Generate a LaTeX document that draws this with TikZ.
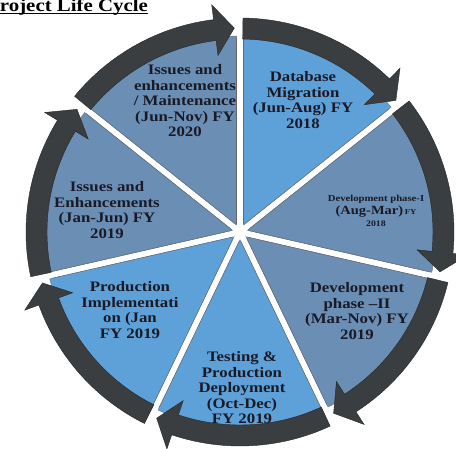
\documentclass[tikz,border=0pt]{standalone}
\usepackage{fontspec}
\setmainfont{Liberation Serif}[FakeStretch=1.16]
\definecolor{lightseg}{RGB}{94,160,216}
\definecolor{darkseg}{RGB}{106,142,180}
\definecolor{ringgray}{RGB}{58,62,64}
\definecolor{labelink}{RGB}{26,26,38}
\tikzset{segment/.style={draw=black!55, line width=0.4pt},
  cyclearrow/.style={fill=ringgray, draw=black!85, line width=0.4pt},
  stage/.style={align=center, inner sep=0, text=labelink,
    font=\bfseries\fontsize{14.5}{15.5}\selectfont}}

\begin{document}
\begin{tikzpicture}[x=1pt, y=1pt]
    \useasboundingbox (-240,-216) rectangle (216,232);
    \clip (-240,-216) rectangle (216,232);
    % seven stages, clockwise from the top
    \foreach \col [count=\k, evaluate={\s=90-(\k-1)*360/7; \e=\s-360/7;}]
    in {lightseg, darkseg, darkseg, lightseg, lightseg, darkseg, darkseg}
        \fill [\col, segment] (0,0) -- (\s:196) arc [start angle=\s, end angle=\e, radius=196] -- cycle;
    \foreach \k in {0,...,6}{
        \draw [white, line width=6pt] (0,0) -- (90-\k*360/7:201);
        \draw [black!60, line width=0.5pt, rotate=90-\k*360/7]
            (8,3.3) -- (194,3.3) (8,-3.3) -- (194,-3.3);
    }
    % curved arrows round the ring
    \foreach \k [evaluate={\s=90-(\k-1)*360/7-0.8; \t=90-\k*360/7+1.6; \h=\t+5.5;}] in {1,...,7}
        \filldraw [cyclearrow] (\s:193) arc [start angle=\s, end angle=\h, radius=193]
            -- (\h:178) -- (\t:204) -- (\h:229) -- (\h:214)
            arc [start angle=\h, end angle=\s, radius=214] -- cycle;
    \node [stage] (db) at (63,132) {Database\\Migration\\(Jun-Aug) FY\\2018};
    \node [stage, font=\bfseries\fontsize{9.2}{12.5}\selectfont] (dev1) at (136,21)
        {Development phase-I\\{\fontsize{12.5}{12.5}\selectfont(Aug-Mar)}\,{\fontsize{7.5}{7.5}\selectfont FY}\\{\fontsize{8.5}{8.5}\selectfont 2018}};
    \node [stage] (dev2) at (117,-79) {Development\\phase --II\\(Mar-Nov) FY\\2019};
    \node [stage] (test) at (2,-156) {Testing \&\\Production\\Deployment\\(Oct-Dec)\\FY 2019};
    \node [stage] (prod) at (-110,-78) {Production\\Implementati\\on (Jan\\FY 2019};
    \node [stage] (iss19) at (-133,22) {Issues and\\Enhancements\\(Jan-Jun) FY\\2019};
    \node [stage] (iss20) at (-55,131) {Issues and\\enhancements\\/ Maintenance\\(Jun-Nov) FY\\2020};
    \node [anchor=base west, inner sep=0, font=\bfseries\fontsize{18}{18}\selectfont] (title)
        at (-253,221) {Project Life Cycle};
    \draw [line width=1pt] ([yshift=-2.8pt]title.base west) -- ([yshift=-2.8pt]title.base east);
\end{tikzpicture}
\end{document}
